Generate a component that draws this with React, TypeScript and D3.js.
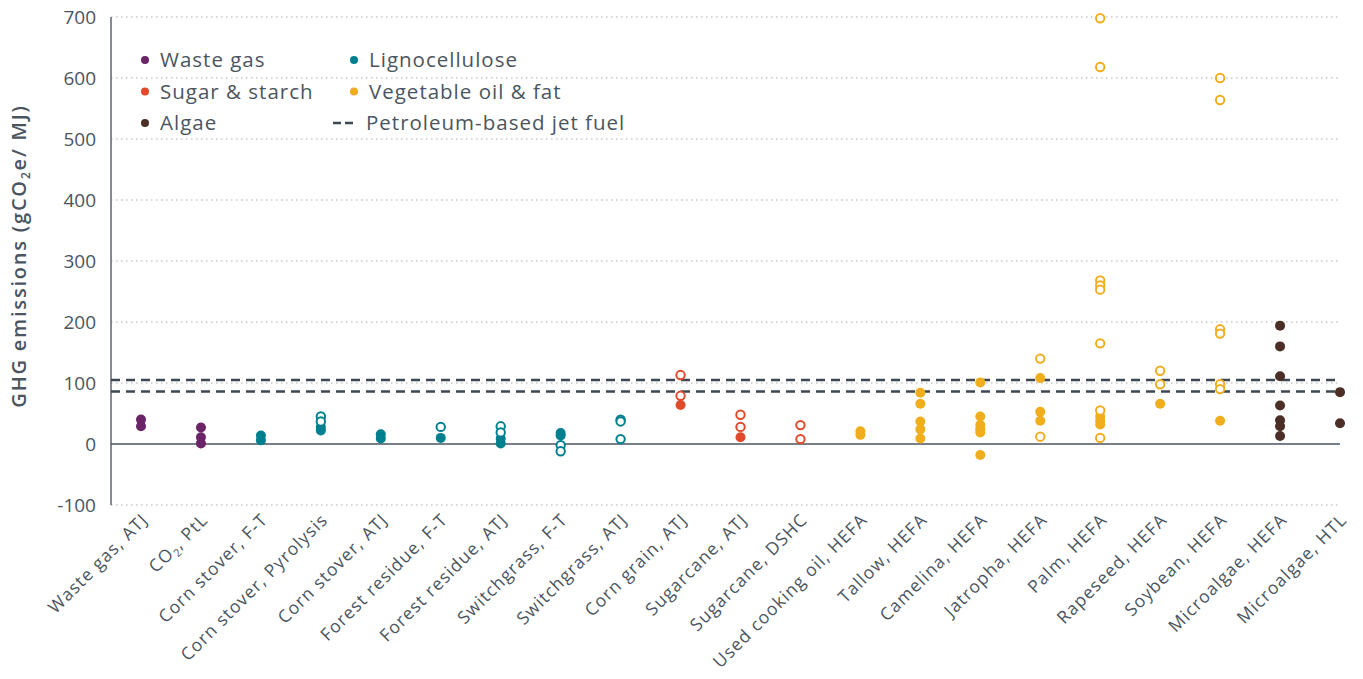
import React from "react";
import * as d3 from "d3";

const categories = [
  "Waste gas, ATJ", "CO2, PtL", "Corn stover, F-T", "Corn stover, Pyrolysis", "Corn stover, ATJ",
  "Forest residue, F-T", "Forest residue, ATJ", "Switchgrass, F-T", "Switchgrass, ATJ", "Corn grain, ATJ",
  "Sugarcane, ATJ", "Sugarcane, DSHC", "Used cooking oil, HEFA", "Tallow, HEFA", "Camelina, HEFA",
  "Jatropha, HEFA", "Palm, HEFA", "Rapeseed, HEFA", "Soybean, HEFA", "Microalgae, HEFA", "Microalgae, HTL",
];
const groupOf = [
  "Waste gas", "Waste gas", "Lignocellulose", "Lignocellulose", "Lignocellulose",
  "Lignocellulose", "Lignocellulose", "Lignocellulose", "Lignocellulose", "Sugar & starch",
  "Sugar & starch", "Sugar & starch", "Vegetable oil & fat", "Vegetable oil & fat", "Vegetable oil & fat",
  "Vegetable oil & fat", "Vegetable oil & fat", "Vegetable oil & fat", "Vegetable oil & fat", "Algae", "Algae",
];
const filledValues: number[][] = [
  [40, 29], [27, 11, 1], [14, 6], [28, 22], [16, 9],
  [10], [9, 1], [18, 14], [], [64],
  [11], [], [21, 15], [84, 66, 37, 24, 9], [101, 45, 31, 24, 19, -18],
  [108, 53, 38], [45, 38, 32], [66], [38], [194, 160, 111, 63, 39, 29, 13], [85, 34],
];
const openValues: number[][] = [
  [], [], [], [45, 37], [],
  [28], [29, 19], [-2, -12], [40, 37, 8], [113, 79],
  [48, 28], [31, 8], [], [], [],
  [140, 12], [698, 618, 268, 260, 253, 165, 55, 10], [120, 98], [600, 564, 188, 181, 98, 90], [], [],
];
const petroleumJetFuel = [86, 105];
const yTicks = [-100, 0, 100, 200, 300, 400, 500, 600, 700];
const groups = ["Waste gas", "Lignocellulose", "Sugar & starch", "Vegetable oil & fat", "Algae"];
const groupColors = ["#6b2468", "#00808f", "#e04a2b", "#f0ae1e", "#4b2f26"];

const W = 1363, H = 679;
const textColor = "#4a5560";
const font = "'Open Sans', sans-serif";

function Label({ text }: { text: string }) {
  if (text.startsWith("CO2")) {
    return (<>CO<tspan fontSize="11" dy="4">2</tspan><tspan dy="-4">{text.slice(3)}</tspan></>);
  }
  return <>{text}</>;
}

export default function App() {
  const x = d3.scalePoint<string>().domain(categories).range([141, 1340]);
  const y = d3.scaleLinear().domain([-100, 700]).range([505, 17]);
  const color = d3.scaleOrdinal<string, string>().domain(groups).range(groupColors);
  const cx = (c: string) => x(c) ?? 0;

  const legendItems = [
    { label: "Waste gas", col: 0, row: 0 },
    { label: "Lignocellulose", col: 1, row: 0 },
    { label: "Sugar & starch", col: 0, row: 1 },
    { label: "Vegetable oil & fat", col: 1, row: 1 },
    { label: "Algae", col: 0, row: 2 },
  ];
  const legCol = [145, 354];
  const legRow = (r: number) => 60 + r * 31.5;

  return (
    <svg width={W} height={H} style={{ position: "absolute", left: 0, top: 0, background: "#fff" }} fontFamily={font}>
      {yTicks.map((t) => (
        <g key={t}>
          {t !== 0 && (
            <line x1={111} x2={1340} y1={y(t)} y2={y(t)} stroke="#c8c8c8" strokeWidth={1.3} strokeDasharray="1.5,3.5" />
          )}
          <text x={96} y={y(t)} dy="0.35em" textAnchor="end" fontSize={19} fill={textColor}>{t}</text>
        </g>
      ))}
      <line x1={111} x2={111} y1={y(700)} y2={y(-100)} stroke="#5a6470" strokeWidth={1.5} />
      <line x1={111} x2={1340} y1={y(0)} y2={y(0)} stroke="#4a5560" strokeWidth={1.5} />
      {petroleumJetFuel.map((v) => (
        <line key={v} x1={111} x2={1340} y1={y(v)} y2={y(v)} stroke="#3d4852" strokeWidth={2.5} strokeDasharray="9,6" />
      ))}
      <text transform={`translate(26,${256}) rotate(-90)`} textAnchor="middle" fontSize={20} fontWeight={600} letterSpacing={1.8} fill={textColor}>
        GHG emissions (gCO<tspan fontSize="12" dy="4">2</tspan><tspan dy="-4">e/ MJ)</tspan>
      </text>
      {categories.map((c, i) => (
        <g key={c}>
          {filledValues[i].map((v, j) => (
            <circle key={"f" + j} cx={cx(c)} cy={y(v)} r={5} fill={color(groupOf[i])} />
          ))}
          {openValues[i].map((v, j) => (
            <circle key={"o" + j} cx={cx(c)} cy={y(v)} r={4.2} fill="#fff" stroke={color(groupOf[i])} strokeWidth={2} />
          ))}
          <text transform={`translate(${cx(c) + 8},${521}) rotate(-45)`} textAnchor="end" fontSize={17.5} letterSpacing={1.1} fill={textColor}>
            <Label text={c} />
          </text>
        </g>
      ))}
      {legendItems.map((l) => (
        <g key={l.label}>
          <circle cx={legCol[l.col]} cy={legRow(l.row)} r={4} fill={color(l.label)} />
          <text x={legCol[l.col] + 15} y={legRow(l.row)} dy="0.35em" fontSize={20.5} letterSpacing={1} fill={textColor}>{l.label}</text>
        </g>
      ))}
      <line x1={333} x2={356} y1={legRow(2)} y2={legRow(2)} stroke="#3d4852" strokeWidth={2.5} strokeDasharray="8,4" />
      <text x={366} y={legRow(2)} dy="0.35em" fontSize={20.5} letterSpacing={1} fill={textColor}>Petroleum-based jet fuel</text>
    </svg>
  );
}
